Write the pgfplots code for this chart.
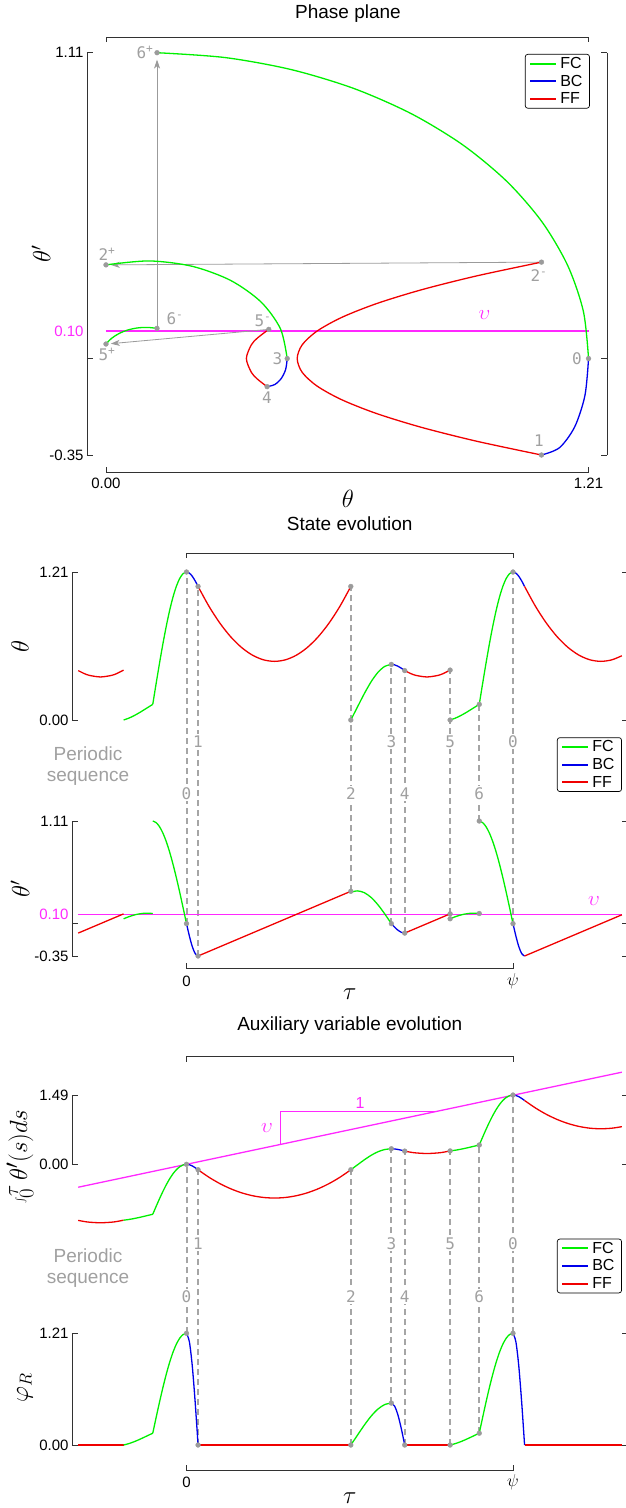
\documentclass[border=0pt]{standalone}
\usepackage{fontspec}
\setmainfont{Liberation Sans}
\newfontfamily\monofont{DejaVu Sans Mono}
\usepackage{pgfplots}
\usepackage{pgfplotstable}
\pgfplotsset{compat=1.18}
\usetikzlibrary{arrows.meta}

\definecolor{fcg}{RGB}{0,240,0}
\definecolor{bcb}{RGB}{0,0,235}
\definecolor{ffr}{RGB}{240,0,0}
\definecolor{mag}{RGB}{255,40,255}
\definecolor{dotg}{RGB}{155,155,155}
\definecolor{dshg}{RGB}{165,165,165}
\definecolor{lblg}{RGB}{160,160,160}
\definecolor{axk}{RGB}{50,50,50}

\newcommand{\lab}{\fontsize{24}{28}\selectfont}
\newcommand{\tit}{\fontsize{19}{22}\selectfont}
\newcommand{\tkf}{\fontsize{15}{18}\selectfont}
\newcommand{\ptf}{\monofont\fontsize{16}{18}\selectfont}

% one period: t theta dtheta I phiR
\pgfplotstableread{
t th dth I phi
0 1.21 0 0 1.21
0.1325 1.2010 -0.1339 -0.009 1.1179
0.265 1.1754 -0.2475 -0.0346 0.8556
0.3975 1.1372 -0.3234 -0.0728 0.4631
0.53 1.092 -0.35 -0.118 0
}\BCa
\pgfplotstableread{
t th dth I phi
0.53 1.092 -0.35 -0.118 0
1.03 0.9295 -0.30 -0.2805 0
1.53 0.792 -0.25 -0.418 0
2.03 0.6795 -0.20 -0.5305 0
2.53 0.592 -0.15 -0.618 0
3.03 0.5295 -0.10 -0.6805 0
3.53 0.492 -0.05 -0.718 0
4.03 0.4795 0 -0.7305 0
4.53 0.492 0.05 -0.718 0
5.03 0.5295 0.10 -0.6805 0
5.53 0.592 0.15 -0.618 0
6.03 0.6795 0.20 -0.5305 0
6.53 0.792 0.25 -0.418 0
7.03 0.9295 0.30 -0.2805 0
7.53 1.092 0.35 -0.118 0
}\FFa
\pgfplotstableread{
t th dth I phi
7.53 0 0.340 -0.118 0
7.8395 0.1083 0.3543 -0.0097 0.1083
8.149 0.2158 0.3350 0.0978 0.2158
8.4585 0.3123 0.2838 0.1943 0.3123
8.768 0.3887 0.2055 0.2707 0.3887
9.0775 0.4375 0.1080 0.3195 0.4375
9.387 0.4544 0 0.3364 0.4544
}\FCa
\pgfplotstableread{
t th dth I phi
9.387 0.4544 0 0.3364 0.4544
9.540 0.4506 -0.039 0.3326 0.4198
9.694 0.4396 -0.0721 0.3216 0.3213
9.847 0.4233 -0.0942 0.3053 0.1739
10.0 0.404 -0.102 0.286 0
}\BCb
\pgfplotstableread{
t th dth I phi
10.0 0.404 -0.102 0.286 0
10.27 0.3801 -0.075 0.2621 0
10.52 0.3645 -0.05 0.2465 0
11.02 0.352 0 0.234 0
11.52 0.3645 0.05 0.2465 0
11.77 0.3801 0.075 0.2621 0
12.08 0.4082 0.106 0.2902 0
}\FFb
\pgfplotstableread{
t th dth I phi
12.08 0 0.0528 0.2902 0
12.3026 0.0141 0.0735 0.3043 0.0141
12.5252 0.0324 0.0907 0.3226 0.0324
12.7478 0.0541 0.1034 0.3443 0.0541
12.9704 0.0781 0.1110 0.3683 0.0781
13.193 0.1031 0.1131 0.3933 0.1031
13.416 0.128 0.1096 0.4182 0.128
}\FCb
\pgfplotstableread{
t th dth I phi
13.416 0.128 1.11 0.4182 0.128
13.5706 0.2985 1.0924 0.5887 0.2985
13.7251 0.4643 1.0488 0.7545 0.4643
13.8797 0.6215 0.9802 0.9117 0.6215
14.0342 0.7662 0.8882 1.0564 0.7662
14.1888 0.8951 0.7750 1.1853 0.8951
14.3434 1.0052 0.6429 1.2954 1.0052
14.4979 1.0931 0.4965 1.3833 1.0931
14.6525 1.1577 0.3378 1.4479 1.1577
14.807 1.1971 0.1710 1.4873 1.1971
14.962 1.21 0 1.5002 1.21
}\FCc
% previous period (left part)
\pgfplotstableread{
t th dth I phi
-4.962 0.404 -0.102 -1.2142 0
-4.692 0.3801 -0.075 -1.2381 0
-4.442 0.3645 -0.05 -1.2537 0
-3.942 0.352 0 -1.2662 0
-3.442 0.3645 0.05 -1.2537 0
-3.192 0.3801 0.075 -1.2381 0
-2.882 0.4082 0.106 -1.21 0
}\FFbL
\pgfplotstableread{
t th dth I phi
-2.882 0 0.0528 -1.21 0
-2.6594 0.0141 0.0735 -1.1959 0.0141
-2.4368 0.0324 0.0907 -1.1776 0.0324
-2.2142 0.0541 0.1034 -1.1559 0.0541
-1.9916 0.0781 0.1110 -1.1319 0.0781
-1.769 0.1031 0.1131 -1.1069 0.1031
-1.546 0.128 0.1096 -1.082 0.128
}\FCbL
\pgfplotstableread{
t th dth I phi
-1.546 0.128 1.11 -1.082 0.128
-1.3914 0.2985 1.0924 -0.9115 0.2985
-1.2369 0.4643 1.0488 -0.7457 0.4643
-1.0823 0.6215 0.9802 -0.5885 0.6215
-0.9278 0.7662 0.8882 -0.4438 0.7662
-0.7732 0.8951 0.7750 -0.3149 0.8951
-0.6186 1.0052 0.6429 -0.2048 1.0052
-0.4641 1.0931 0.4965 -0.1169 1.0931
-0.3095 1.1577 0.3378 -0.0523 1.1577
-0.155 1.1971 0.1710 -0.0129 1.1971
0 1.21 0 0 1.21
}\FCcL
% next period (right part)
\pgfplotstableread{
t th dth I phi
14.962 1.21 0 1.5002 1.21
15.0945 1.2010 -0.1339 1.4912 1.1179
15.227 1.1754 -0.2475 1.4656 0.8556
15.3595 1.1372 -0.3234 1.4274 0.4631
15.492 1.092 -0.35 1.3822 0
}\BCaR
\pgfplotstableread{
t th dth I phi
15.492 1.092 -0.35 1.3822 0
15.992 0.9295 -0.30 1.2197 0
16.492 0.792 -0.25 1.0822 0
16.992 0.6795 -0.20 0.9697 0
17.492 0.592 -0.15 0.8822 0
17.992 0.5295 -0.10 0.8197 0
18.492 0.492 -0.05 0.7822 0
18.992 0.4795 0 0.7697 0
19.492 0.492 0.05 0.7822 0
19.95 0.5254 0.0958 0.8156 0
}\FFaR

\tikzset{
  ptl/.style={text=lblg, font=\ptf, inner sep=1pt},
  ptlw/.style={text=lblg, font=\ptf, fill=white, inner sep=1.5pt},
  bkt/.style={axk, line width=0.9pt},
}
\pgfplotsset{
  legend image code/.code={\draw[#1] (0pt,0pt) -- (26pt,0pt);},
  base/.style={
    scale only axis, clip=false, separate axis lines,
    x axis line style={draw=none}, xtick=\empty,
    y axis line style={axk, line width=0.9pt},
    ytick pos=both, yticklabel pos=left, tick align=inside,
    major tick length=6pt, tick style={axk, line width=0.9pt},
    yticklabel style={font=\tkf, text=black},
    anchor=south west,
    legend cell align=left,
    legend style={anchor=north east, draw=black, line width=0.7pt, rounded corners=2.5pt,
      font=\fontsize{16}{18}\selectfont, inner xsep=4pt, inner ysep=2.5pt, row sep=4pt,
      nodes={inner xsep=3pt, inner ysep=0.5pt}},
  },
  fc/.style={fcg, line width=1.3pt, smooth, no markers, forget plot},
  bc/.style={bcb, line width=1.3pt, smooth, no markers, forget plot},
  ff/.style={ffr, line width=1.3pt, smooth, no markers, forget plot},
  dots/.style={dotg, only marks, mark=*, mark size=2.4pt, mark options={draw=none, fill=dotg}, forget plot},
  dsh/.style={dshg, line width=2pt, dash pattern=on 6pt off 4pt, forget plot},
  garr/.style={dotg, line width=0.8pt, forget plot, -{Stealth[length=9pt,width=6pt,inset=2.5pt]}},
}

\newcommand{\threeleg}{%
\addlegendimage{color=fcg, line width=2pt}\addlegendentry{FC}
\addlegendimage{color=bcb, line width=2pt}\addlegendentry{BC}
\addlegendimage{color=ffr, line width=2pt}\addlegendentry{FF}}

\begin{document}
\begin{tikzpicture}
\useasboundingbox (0pt,0pt) rectangle (625pt,-1508pt);

% ================= Phase plane =================
\begin{axis}[base, at={(87pt,-455pt)}, width=520pt, height=402.3pt,
  xmin=-0.0476, xmax=1.2563, ymin=-0.35, ymax=1.11,
  ytick={-0.35,0,1.11}, yticklabels={-0.35,,1.11},
  extra y ticks={0.1}, extra y tick labels={\textcolor{mag}{0.10}},
  extra y tick style={major tick length=0pt},
  legend style={at={(0.967,0.9968)}}]
\threeleg
\addplot[mag, line width=1.3pt, forget plot] coordinates {(0,0.1) (1.21,0.1)};
\addplot[garr] coordinates {(1.092,0.35) (0.012,0.34)};
\addplot[garr] coordinates {(0.4082,0.106) (0.012,0.054)};
\addplot[garr] coordinates {(0.128,0.1096) (0.128,1.085)};
\addplot[ff] table[x=th,y=dth]{\FFa};
\addplot[ff] table[x=th,y=dth]{\FFb};
\addplot[bc] table[x=th,y=dth]{\BCa};
\addplot[bc] table[x=th,y=dth]{\BCb};
\addplot[fc] table[x=th,y=dth]{\FCa};
\addplot[fc] table[x=th,y=dth]{\FCb};
\addplot[fc] table[x=th,y=dth]{\FCc};
\addplot[dots] coordinates {(1.21,0) (1.092,-0.35) (1.092,0.35) (0,0.34) (0.4544,0) (0.404,-0.102) (0.4082,0.106) (0,0.0528) (0.128,0.1096) (0.128,1.11)};
\node[ptl] at (axis cs:0.0978,1.11) {6\textsuperscript{+}};
\node[ptl] at (axis cs:0.0025,0.3796) {2\textsuperscript{+}};
\node[ptl] at (axis cs:0.173,0.1437) {6\textsuperscript{-}};
\node[ptl] at (axis cs:0.3937,0.1365) {5\textsuperscript{-}};
\node[ptl] at (axis cs:0.0025,0.0149) {5\textsuperscript{+}};
\node[ptl] at (axis cs:0.430,0) {3};
\node[ptl] at (axis cs:0.4037,-0.1412) {4};
\node[ptl] at (axis cs:1.0858,0.2998) {2\textsuperscript{-}};
\node[ptl] at (axis cs:1.181,0) {0};
\node[ptl] at (axis cs:1.0858,-0.2991) {1};
\node[text=mag, font=\fontsize{22}{24}\selectfont] at (axis cs:0.949,0.158) {$\upsilon$};
\node[font=\tit] at (axis cs:0.6068,1.2506) {Phase plane};
\draw[bkt] (axis cs:0,1.148) |- (axis cs:1.21,1.166) -- (axis cs:1.21,1.148);
\draw[bkt] (axis cs:0,-0.3945) |- (axis cs:1.21,-0.4126) -- (axis cs:1.21,-0.3945);
\node[font=\tkf] at (axis cs:0,-0.4535) {0.00};
\node[font=\tkf] at (axis cs:1.21,-0.4535) {1.21};
\node[font=\lab] at (axis cs:0.6068,-0.508) {$\theta$};
\node[font=\lab, rotate=90] at (axis cs:-0.163,0.3797) {$\theta'$};
\end{axis}

% ================= State evolution: theta' =================
\begin{axis}[base, at={(72pt,-956pt)}, width=556pt, height=135pt,
  xmin=-5.247, xmax=20.232, ymin=-0.35, ymax=1.11,
  ytick={-0.35,0,1.11}, yticklabels={-0.35,,1.11},
  extra y ticks={0.1}, extra y tick labels={\textcolor{mag}{0.10}},
  extra y tick style={major tick length=0pt},
  legend style={at={(0.989,1.62)}}]
\threeleg
\addplot[dsh] coordinates {(0,0) (0,3.802)};
\addplot[dsh] coordinates {(0.53,-0.35) (0.53,3.646)};
\addplot[dsh] coordinates {(7.53,0.35) (7.53,3.646)};
\addplot[dsh] coordinates {(9.387,0) (9.387,2.803)};
\addplot[dsh] coordinates {(10.0,-0.102) (10.0,2.736)};
\addplot[dsh] coordinates {(12.08,0.106) (12.08,2.742)};
\addplot[dsh] coordinates {(13.416,1.11) (13.416,2.371)};
\addplot[dsh] coordinates {(14.962,0) (14.962,3.802)};
\addplot[mag, line width=1.3pt, forget plot] coordinates {(-4.962,0.1) (19.95,0.1)};
\node[text=mag, font=\fontsize{22}{24}\selectfont] at (axis cs:18.67,0.244) {$\upsilon$};
\addplot[ff] table[x=t,y=dth]{\FFbL};
\addplot[fc] table[x=t,y=dth]{\FCbL};
\addplot[fc] table[x=t,y=dth]{\FCcL};
\addplot[bc] table[x=t,y=dth]{\BCa};
\addplot[ff] table[x=t,y=dth]{\FFa};
\addplot[fc] table[x=t,y=dth]{\FCa};
\addplot[bc] table[x=t,y=dth]{\BCb};
\addplot[ff] table[x=t,y=dth]{\FFb};
\addplot[fc] table[x=t,y=dth]{\FCb};
\addplot[fc] table[x=t,y=dth]{\FCc};
\addplot[bc] table[x=t,y=dth]{\BCaR};
\addplot[ff] table[x=t,y=dth]{\FFaR};
\addplot[dots] coordinates {(0,0) (0.53,-0.35) (7.53,0.35) (9.387,0) (10.0,-0.102) (12.08,0.106) (12.08,0.0528) (13.416,1.11) (13.416,0.1096) (14.962,0)};
\node[ptlw] at (axis cs:0.53,1.967) {1};
\node[ptlw] at (axis cs:9.387,1.967) {3};
\node[ptlw] at (axis cs:12.08,1.967) {5};
\node[ptlw] at (axis cs:14.962,1.967) {0};
\node[ptlw] at (axis cs:0,1.409) {0};
\node[ptlw] at (axis cs:7.53,1.409) {2};
\node[ptlw] at (axis cs:10.0,1.409) {4};
\node[ptlw] at (axis cs:13.416,1.409) {6};
\node[align=center, text=lblg, font=\fontsize{19}{21.7}\selectfont] at (axis cs:-4.514,1.704) {Periodic\\sequence};
\draw[bkt] (axis cs:0,-0.4293) |- (axis cs:14.962,-0.4834) -- (axis cs:14.962,-0.4293);
\node[font=\tkf] at (axis cs:0,-0.621) {0};
\node[font=\fontsize{17}{20}\selectfont] at (axis cs:14.962,-0.621) {$\psi$};
\node[font=\lab] at (axis cs:7.48,-0.761) {$\tau$};
\node[font=\lab, rotate=90] at (axis cs:-7.63,0.374) {$\theta'$};
\end{axis}

% ================= State evolution: theta =================
\begin{axis}[base, at={(72pt,-720pt)}, width=556pt, height=148pt,
  xmin=-5.247, xmax=20.232, ymin=0, ymax=1.21,
  ytick={0,1.21}, yticklabels={0.00,1.21}]
\addplot[ff] table[x=t,y=th]{\FFbL};
\addplot[fc] table[x=t,y=th]{\FCbL};
\addplot[fc] table[x=t,y=th]{\FCcL};
\addplot[bc] table[x=t,y=th]{\BCa};
\addplot[ff] table[x=t,y=th]{\FFa};
\addplot[fc] table[x=t,y=th]{\FCa};
\addplot[bc] table[x=t,y=th]{\BCb};
\addplot[ff] table[x=t,y=th]{\FFb};
\addplot[fc] table[x=t,y=th]{\FCb};
\addplot[fc] table[x=t,y=th]{\FCc};
\addplot[bc] table[x=t,y=th]{\BCaR};
\addplot[ff] table[x=t,y=th]{\FFaR};
\addplot[dots] coordinates {(0,1.21) (0.53,1.092) (7.53,1.092) (7.53,0) (9.387,0.4544) (10.0,0.404) (12.08,0.4082) (12.08,0) (13.416,0.128) (14.962,1.21)};
\node[font=\tit] at (axis cs:7.48,1.6025) {State evolution};
\draw[bkt] (axis cs:0,1.3245) |- (axis cs:14.962,1.363) -- (axis cs:14.962,1.3245);
\node[font=\lab, rotate=90] at (axis cs:-7.63,0.605) {$\theta$};
\end{axis}

% ================= Auxiliary: phi_R =================
\begin{axis}[base, at={(72pt,-1445pt)}, width=556pt, height=111.7pt,
  xmin=-5.247, xmax=20.232, ymin=0, ymax=1.21,
  ytick={0,1.21}, yticklabels={0.00,1.21},
  legend style={at={(0.989,1.847)}}]
\threeleg
\addplot[dsh] coordinates {(0,1.21) (0,3.041)};
\addplot[dsh] coordinates {(0.53,0) (0.53,2.983)};
\addplot[dsh] coordinates {(7.53,0) (7.53,2.983)};
\addplot[dsh] coordinates {(9.387,0.4544) (9.387,3.209)};
\addplot[dsh] coordinates {(10.0,0) (10.0,3.184)};
\addplot[dsh] coordinates {(12.08,0) (12.08,3.186)};
\addplot[dsh] coordinates {(13.416,0.128) (13.416,3.250)};
\addplot[dsh] coordinates {(14.962,1.21) (14.962,3.792)};
\addplot[ff] table[x=t,y=phi]{\FFbL};
\addplot[fc] table[x=t,y=phi]{\FCbL};
\addplot[fc] table[x=t,y=phi]{\FCcL};
\addplot[bc] table[x=t,y=phi]{\BCa};
\addplot[ff] table[x=t,y=phi]{\FFa};
\addplot[fc] table[x=t,y=phi]{\FCa};
\addplot[bc] table[x=t,y=phi]{\BCb};
\addplot[ff] table[x=t,y=phi]{\FFb};
\addplot[fc] table[x=t,y=phi]{\FCb};
\addplot[fc] table[x=t,y=phi]{\FCc};
\addplot[bc] table[x=t,y=phi]{\BCaR};
\addplot[ff] table[x=t,y=phi]{\FFaR};
\addplot[dots] coordinates {(0,1.21) (0.53,0) (7.53,0) (9.387,0.4544) (10.0,0) (12.08,0) (13.416,0.128) (14.962,1.21)};
\node[ptlw] at (axis cs:0.53,2.185) {1};
\node[ptlw] at (axis cs:9.387,2.185) {3};
\node[ptlw] at (axis cs:12.08,2.185) {5};
\node[ptlw] at (axis cs:14.962,2.185) {0};
\node[ptlw] at (axis cs:0,1.607) {0};
\node[ptlw] at (axis cs:7.53,1.607) {2};
\node[ptlw] at (axis cs:10.0,1.607) {4};
\node[ptlw] at (axis cs:13.416,1.607) {6};
\node[align=center, text=lblg, font=\fontsize{19}{21.7}\selectfont] at (axis cs:-4.514,1.918) {Periodic\\sequence};
\draw[bkt] (axis cs:0,-0.2167) |- (axis cs:14.962,-0.2708) -- (axis cs:14.962,-0.2167);
\node[font=\tkf] at (axis cs:0,-0.404) {0};
\node[font=\fontsize{17}{20}\selectfont] at (axis cs:14.962,-0.404) {$\psi$};
\node[font=\lab] at (axis cs:7.48,-0.574) {$\tau$};
\node[font=\lab, rotate=90] at (axis cs:-7.40,0.6175) {$\varphi_R$};
\end{axis}

% ================= Auxiliary: integral =================
\begin{axis}[base, at={(72pt,-1164.3pt)}, width=556pt, height=68.8pt,
  xmin=-5.247, xmax=20.232, ymin=0, ymax=1.49,
  ytick={0,1.49}, yticklabels={0.00,1.49}]
\addplot[mag, line width=1.3pt, forget plot] coordinates {(-4.962,-0.4962) (19.95,1.995)};
\addplot[mag, line width=1pt, forget plot] coordinates {(4.285,0.4285) (4.285,1.15) (11.5,1.15)};
\node[text=mag, font=\fontsize{16}{18}\selectfont] at (axis cs:7.95,1.334) {1};
\node[text=mag, font=\fontsize{22}{24}\selectfont] at (axis cs:3.689,0.786) {$\upsilon$};
\addplot[ff] table[x=t,y=I]{\FFbL};
\addplot[fc] table[x=t,y=I]{\FCbL};
\addplot[fc] table[x=t,y=I]{\FCcL};
\addplot[bc] table[x=t,y=I]{\BCa};
\addplot[ff] table[x=t,y=I]{\FFa};
\addplot[fc] table[x=t,y=I]{\FCa};
\addplot[bc] table[x=t,y=I]{\BCb};
\addplot[ff] table[x=t,y=I]{\FFb};
\addplot[fc] table[x=t,y=I]{\FCb};
\addplot[fc] table[x=t,y=I]{\FCc};
\addplot[bc] table[x=t,y=I]{\BCaR};
\addplot[ff] table[x=t,y=I]{\FFaR};
\addplot[dots] coordinates {(0,0) (0.53,-0.118) (7.53,-0.118) (9.387,0.3364) (10.0,0.286) (12.08,0.2902) (13.416,0.4182) (14.962,1.5002)};
\node[font=\tit] at (axis cs:7.48,2.995) {Auxiliary variable evolution};
\draw[bkt] (axis cs:0,2.222) |- (axis cs:14.962,2.3305) -- (axis cs:14.962,2.222);
\node[font=\fontsize{29}{32}\selectfont, rotate=90] at (axis cs:-7.63,0.17) {$\int_0^\tau \theta'(s)ds$};
\end{axis}
\end{tikzpicture}
\end{document}
